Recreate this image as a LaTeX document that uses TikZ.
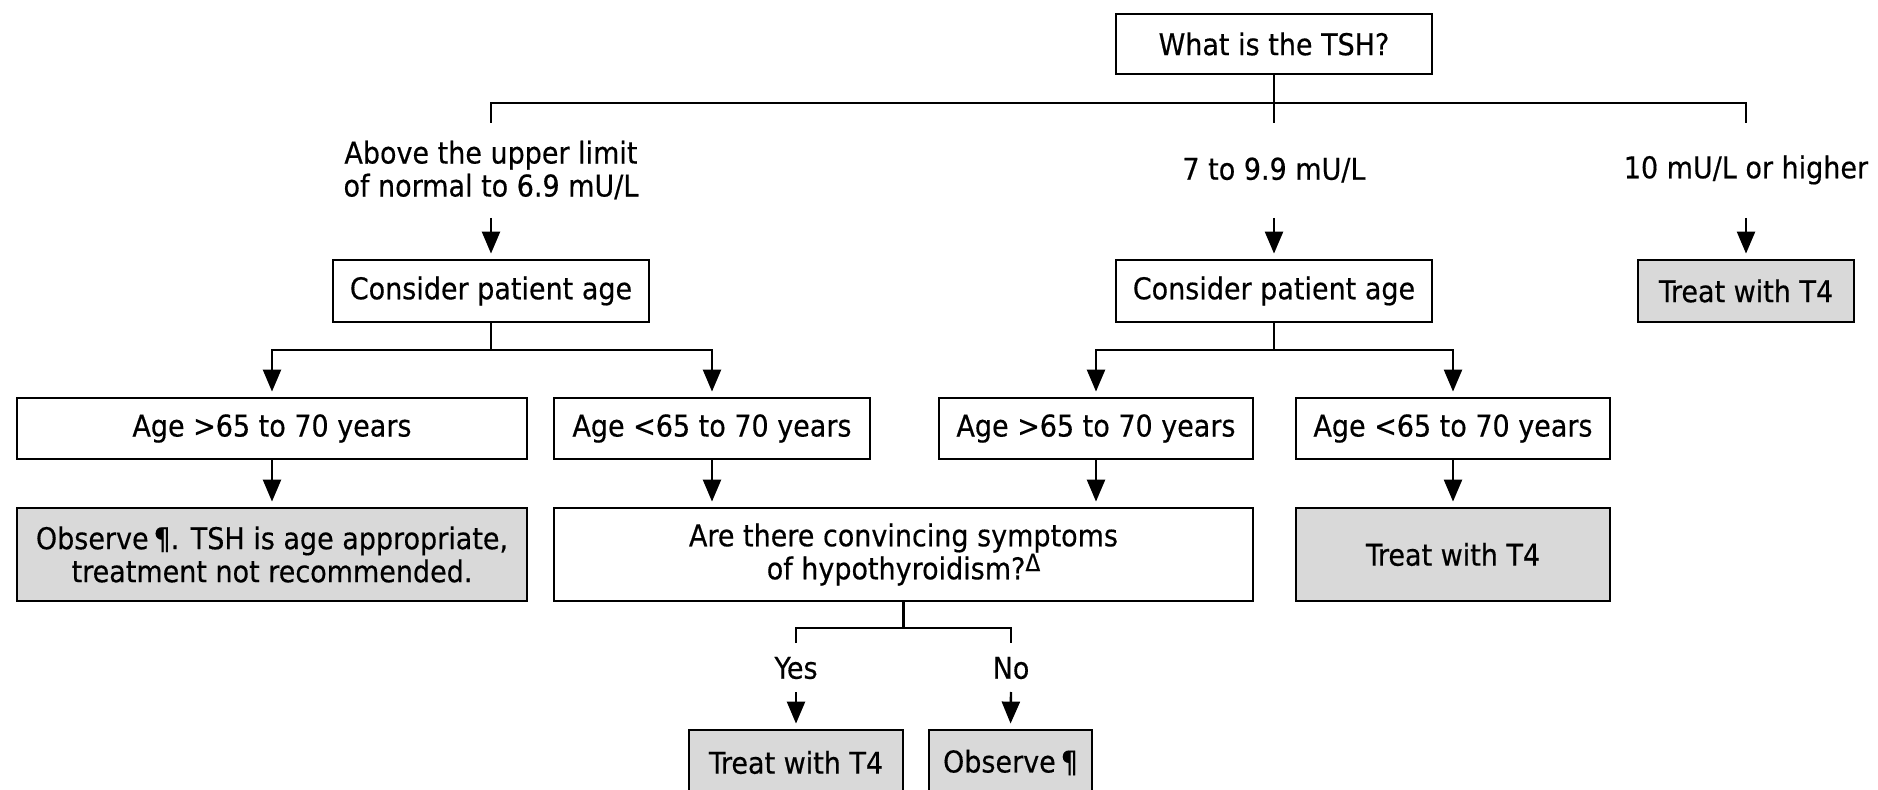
\documentclass[tikz,border=0pt]{standalone}
\usepackage{fontspec}
\setmainfont[FakeBold=0.4]{DejaVu Sans Condensed}
\usetikzlibrary{arrows.meta}
\definecolor{boxgray}{HTML}{D9D9D9}
\newcommand\fsz{\fontsize{15}{16.5}\selectfont}
\begin{document}
\begin{tikzpicture}[x=0.5pt,y=-0.5pt,
  box/.style={draw, line width=1.4pt, fill=white, inner sep=0pt, align=center, font=\fsz},
  gbox/.style={box, fill=boxgray},
  lbl/.style={inner sep=0pt, align=center, font=\fsz},
  line/.style={line width=1.2pt},
  arr/.style={line width=1.2pt, -{Triangle[length=11pt,width=9pt]}, shorten >=2.5pt}]
\useasboundingbox (0,0) rectangle (1878,790);
\fill[white] (0,0) rectangle (1878,790);
\clip (0,0) rectangle (1878,790);

% top
\node[box, minimum width=158pt, minimum height=30pt] (q) at (1274,44) {What is the TSH?};
\coordinate (bus) at (0,103);
\coordinate (d1) at (491,123);
\coordinate (d2) at (1274,123);
\coordinate (d3) at (1746,123);
\draw[line] (q.south) -- (d2);
\draw[line] (d1) -- (d1 |- bus) -- (d3 |- bus) -- (d3);

% range labels
\node[lbl] (l1) at (491,170) {Above the upper limit\\of normal to 6.9 mU/L};
\node[lbl] (l2) at (1274,170) {7 to 9.9 mU/L};
\node[lbl] (l3) at (1746,170) {10 mU/L or higher};
\coordinate (e1) at (491,218);
\coordinate (e2) at (1274,218);
\coordinate (e3) at (1746,218);

% second level
\node[box, minimum width=158pt, minimum height=31pt] (c1) at (491,291) {Consider patient age};
\node[box, minimum width=158pt, minimum height=31pt] (c2) at (1274,291) {Consider patient age};
\node[gbox, minimum width=108pt, minimum height=31pt] (t0) at (1746,291) {Treat with T4};
\draw[arr] (e1) -- (c1.north);
\draw[arr] (e2) -- (c2.north);
\draw[arr] (e3) -- (t0.north);

% age boxes
\node[box, minimum width=255pt, minimum height=30.5pt] (a1) at (272,428.5) {Age >65 to 70 years};
\node[box, minimum width=158pt, minimum height=30.5pt] (a2) at (712,428.5) {Age <65 to 70 years};
\node[box, minimum width=157pt, minimum height=30.5pt] (a3) at (1096,428.5) {Age >65 to 70 years};
\node[box, minimum width=157pt, minimum height=30.5pt] (a4) at (1453,428.5) {Age <65 to 70 years};
\coordinate (s1) at (491,350);
\coordinate (s2) at (1274,350);
\draw[line] (c1.south) -- (s1);
\draw[arr] (s1) -| (a1.north);
\draw[arr] (s1) -| (a2.north);
\draw[line] (c2.south) -- (s2);
\draw[arr] (s2) -| (a3.north);
\draw[arr] (s2) -| (a4.north);

% third row
\node[gbox, minimum width=255pt, minimum height=46.5pt] (o1) at (272,554.5) {Observe\,¶. TSH is age appropriate,\\treatment not recommended.};
\node[box, minimum width=349.5pt, minimum height=46.5pt] (sym) at (903.5,554.5) {Are there convincing symptoms\\of hypothyroidism?\raisebox{0.5ex}{\fontsize{12}{12}\selectfont Δ}};
\node[gbox, minimum width=157pt, minimum height=46.5pt] (t2) at (1453,554.5) {Treat with T4};
\draw[arr] (a1.south) -- (o1.north);
\draw[arr] (a2.south) -- (a2.south |- sym.north);
\draw[arr] (a3.south) -- (a3.south |- sym.north);
\draw[arr] (a4.south) -- (t2.north);

% yes / no
\coordinate (s3) at (903.5,628);
\coordinate (y1) at (796,643);
\coordinate (n1) at (1011,643);
\draw[line] (sym.south) -- (s3);
\draw[line] (y1) |- (s3) -| (n1);
\node[lbl] (yes) at (796,668) {Yes};
\node[lbl] (no) at (1011,668) {No};
\coordinate (y2) at (796,692);
\coordinate (n2) at (1011,692);
\node[gbox, minimum width=107pt, minimum height=32.5pt] (t3) at (796,762.5) {Treat with T4};
\node[gbox, minimum width=81.5pt, minimum height=32.5pt] (o2) at (1010.5,762.5) {Observe\,¶};
\draw[arr] (y2) -- (t3.north);
\draw[arr] (n2) -- (o2.north);
\end{tikzpicture}
\end{document}
